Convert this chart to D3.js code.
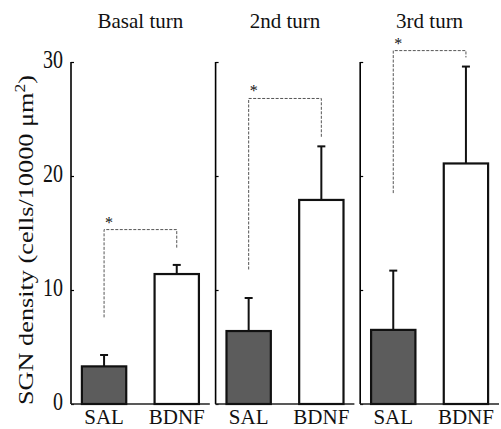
<!DOCTYPE html>
<html>
<head>
<meta charset="utf-8">
<script src="https://d3js.org/d3.v7.min.js"></script>
<style>
  body { margin: 0; background: #fff; }
  text { font-family: "Liberation Serif", "Times New Roman", serif; fill: #111; }
</style>
</head>
<body>
<script>
// data
var turns = ["Basal turn", "2nd turn", "3rd turn"];
var groups = ["SAL", "BDNF"];
var salMean = [3.3, 6.4, 6.5];
var salErr = [1.0, 2.9, 5.2];
var bdnfMean = [11.4, 17.9, 21.1];
var bdnfErr = [0.8, 4.7, 8.5];
var yTicks = [0, 10, 20, 30];
// significance brackets: [left foot, top, right foot] in y units
var bracketLeft = [7.6, 11.8, 18.5];
var bracketTop = [15.3, 26.8, 31.0];
var bracketRight = [13.7, 23.4, 30.4];

var W = 501, H = 429;
var svg = d3.select("body").append("svg")
    .attr("width", W)
    .attr("height", H);

var panel = d3.scaleBand()
    .domain(turns)
    .range([71, 499])
    .paddingInner(0.04);

var inner = d3.scaleBand()
    .domain(groups)
    .range([0, panel.bandwidth()])
    .paddingInner(0.39)
    .paddingOuter(0.15);

var y = d3.scaleLinear()
    .domain([0, 30])
    .range([404, 62]);

var rows = [];
turns.forEach(function(t, i) {
    rows.push({turn: t, group: "SAL", v: salMean[i], e: salErr[i]});
    rows.push({turn: t, group: "BDNF", v: bdnfMean[i], e: bdnfErr[i]});
});

turns.forEach(function(t, i) {
    var g = svg.append("g")
        .attr("transform", "translate(" + panel(t) + ",0)");

    // y axis with inward ticks
    var ax = g.append("g")
        .call(d3.axisRight(y).tickValues(yTicks).tickSize(3).tickFormat(""));
    ax.select(".domain").attr("stroke-width", 1.6).attr("d", "M0," + y(30) + "V" + y(0));
    ax.selectAll(".tick line").attr("stroke-width", 1.2);

    if (i === 0) {
        g.selectAll(".ylab")
            .data(yTicks)
            .enter().append("text")
            .attr("transform", function(d) { return "translate(-8," + (y(d) - 3) + ") scale(1,1.25)"; })
            .attr("text-anchor", "end")
            .attr("dy", "0.35em")
            .style("font-size", "20px")
            .text(function(d) { return d; });
    }

    // baseline
    g.append("line")
        .attr("x1", 0).attr("x2", panel.bandwidth())
        .attr("y1", y(0)).attr("y2", y(0))
        .attr("stroke", "#222").attr("stroke-width", 1.6);

    var d = rows.filter(function(r) { return r.turn === t; });

    // error bars
    g.selectAll(".err")
        .data(d).enter().append("line")
        .attr("x1", function(r) { return inner(r.group) + inner.bandwidth() / 2; })
        .attr("x2", function(r) { return inner(r.group) + inner.bandwidth() / 2; })
        .attr("y1", function(r) { return y(r.v); })
        .attr("y2", function(r) { return y(r.v + r.e); })
        .attr("stroke", "#111").attr("stroke-width", 2);
    g.selectAll(".cap")
        .data(d).enter().append("line")
        .attr("x1", function(r) { return inner(r.group) + inner.bandwidth() / 2 - 4; })
        .attr("x2", function(r) { return inner(r.group) + inner.bandwidth() / 2 + 4; })
        .attr("y1", function(r) { return y(r.v + r.e); })
        .attr("y2", function(r) { return y(r.v + r.e); })
        .attr("stroke", "#111").attr("stroke-width", 2);

    // bars
    g.selectAll(".bar")
        .data(d).enter().append("rect")
        .attr("x", function(r) { return inner(r.group); })
        .attr("width", inner.bandwidth())
        .attr("y", function(r) { return y(r.v); })
        .attr("height", function(r) { return y(0) - y(r.v); })
        .attr("fill", function(r) { return r.group === "SAL" ? "#5c5c5c" : "#fff"; })
        .attr("stroke", "#111")
        .attr("stroke-width", 2.2);

    // group labels
    g.selectAll(".xlab")
        .data(groups).enter().append("text")
        .attr("x", function(k) { return inner(k) + inner.bandwidth() / 2; })
        .attr("y", 424)
        .attr("text-anchor", "middle")
        .style("font-size", "21px")
        .text(function(k) { return k; });

    // significance bracket
    var xl = inner("SAL") + inner.bandwidth() / 2;
    var xr = inner("BDNF") + inner.bandwidth() / 2;
    g.append("path")
        .attr("d", "M" + xl + "," + y(bracketLeft[i]) + "V" + y(bracketTop[i]) +
                   "H" + xr + "V" + y(bracketRight[i]))
        .attr("fill", "none")
        .attr("stroke", "#555")
        .attr("stroke-width", 1)
        .attr("stroke-dasharray", "3,1.5");
    g.append("text")
        .attr("x", xl + 5)
        .attr("y", y(bracketTop[i]) - 2)
        .attr("text-anchor", "middle")
        .style("font-size", "16px")
        .text("*");

    // panel title
    g.append("text")
        .attr("x", panel.bandwidth() / 2)
        .attr("y", 28)
        .attr("text-anchor", "middle")
        .style("font-size", "21px")
        .text(t);
});

// y axis title
svg.append("text")
    .attr("transform", "translate(33,240) rotate(-90)")
    .attr("text-anchor", "middle")
    .attr("textLength", 330)
    .attr("lengthAdjust", "spacingAndGlyphs")
    .style("font-size", "21px")
    .html("SGN density (cells/10000 \u03bcm<tspan dy='-8' style='font-size:14px'>2</tspan><tspan dy='8'>)</tspan>");
</script>
</body>
</html>
